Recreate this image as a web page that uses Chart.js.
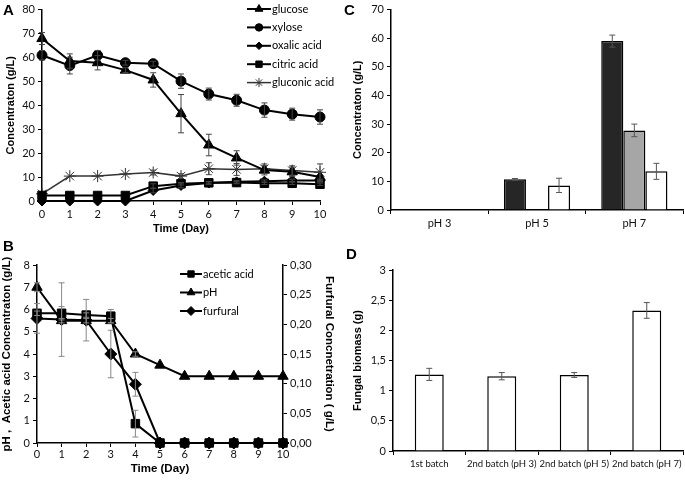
<!DOCTYPE html>
<html>
<head>
<meta charset="utf-8">
<script src="https://cdn.jsdelivr.net/npm/chart.js@4.4.1/dist/chart.umd.min.js"></script>
<style>
  body { margin: 0; background: #fff; }
  #wrap { position: relative; width: 685px; height: 480px; overflow: hidden; }
  #wrap canvas { position: absolute; }
  .tag { position: absolute; font: bold 15px "Liberation Sans", Arial, sans-serif; color: #000; }
</style>
</head>
<body>
<div id="wrap">
  <canvas id="chartA" width="340" height="240" style="left:0;top:0"></canvas>
  <canvas id="chartB" width="340" height="240" style="left:0;top:240px"></canvas>
  <canvas id="chartC" width="345" height="240" style="left:340px;top:0"></canvas>
  <canvas id="chartD" width="345" height="240" style="left:340px;top:240px"></canvas>
  <div class="tag" style="left:3px;top:1px">A</div>
  <div class="tag" style="left:3px;top:237px">B</div>
  <div class="tag" style="left:344px;top:1px">C</div>
  <div class="tag" style="left:346px;top:245px">D</div>
</div>
<script>
// panel A - fermentation time course
const days = ['0', '1', '2', '3', '4', '5', '6', '7', '8', '9', '10'];
const glucose = [67.9, 58.5, 57.8, 54.7, 50.6, 36.5, 23.4, 18.0, 12.9, 12.2, 10.0];
const glucoseErr = [2.5, 3, 3, 1, 3, 8, 4.5, 3, 2, 2, 2];
const xylose = [60.9, 56.6, 60.9, 57.8, 57.4, 50.1, 44.7, 42.1, 38.0, 36.3, 35.1];
const xyloseErr = [2, 3.5, 2, 1, 1, 3, 2.5, 2.5, 3, 2.5, 3];
const oxalic = [0, 0, 0, 0, 4.4, 6.5, 7.5, 8.0, 8.3, 8.6, 8.6];
const oxalicErr = [0, 0, 0, 0, 1, 1, 0.5, 0.5, 0.5, 0.5, 0.5];
const citric = [2.3, 2.3, 2.3, 2.3, 6.2, 7.2, 7.6, 7.7, 7.4, 7.4, 7.0];
const citricErr = [0, 0, 0, 0, 1, 0.5, 0.5, 0.5, 0.5, 0.5, 0.5];
const gluconic = [3.0, 10.4, 10.4, 11.3, 11.9, 10.4, 13.5, 13.2, 13.5, 12.7, 12.0];
const gluconicErr = [0, 0, 0, 0, 1, 1, 2.5, 2.5, 2, 2, 3.5];

// panel B - pH, acetic acid, furfural
const acetic = [5.83, 5.83, 5.75, 5.7, 0.87, 0, 0, 0, 0, 0, 0];
const aceticErr = [0.1, 0.3, 0.1, 0.3, 0.6, 0, 0, 0, 0, 0, 0];
const phValues = [7.0, 5.5, 5.5, 5.5, 4.0, 3.5, 3.0, 3.0, 3.0, 3.0, 3.0];
const phErr = [0.2, 0.1, 0.1, 0.1, 0.1, 0, 0, 0, 0, 0, 0];
const furfural = [0.21, 0.208, 0.207, 0.15, 0.099, 0, 0, 0, 0, 0, 0];
const furfuralErr = [0.025, 0.062, 0.035, 0.04, 0.02, 0, 0, 0, 0, 0, 0];

// panel C - second batch at different pH
const phGroups = ['pH 3', 'pH 5', 'pH 7'];
const glucoseC = [0, 10.7, 59.0];
const glucoseCErr = [0, 0.3, 2.1];
const xyloseC = [0, 0, 27.8];
const xyloseCErr = [0, 0, 2.2];
const gluconicC = [0, 8.6, 13.5];
const gluconicCErr = [0, 2.5, 2.8];

// panel D - fungal biomass
const batches = ['1st batch', '2nd batch (pH 3)', '2nd batch (pH 5)', '2nd batch (pH 7)'];
const biomass = [1.27, 1.24, 1.26, 2.33];
const biomassErr = [0.1, 0.06, 0.04, 0.13];

const tickFont = { family: 'Lato', size: 11 };
const titleFont = { family: 'Liberation Sans', size: 11, weight: 'bold' };
const titleFontB = { family: 'Liberation Sans', size: 11.5, weight: 'bold' };
const comma = v => String(v).replace('.', ',');

// error bars drawn from dataset.errors
const errorBars = {
    id: 'errorBars',
    afterDatasetsDraw(chart) {
        const ctx = chart.ctx;
        chart.data.datasets.forEach((ds, i) => {
            if (!ds.errors) return;
            const meta = chart.getDatasetMeta(i);
            const yScale = chart.scales[meta.yAxisID];
            ctx.save();
            ctx.strokeStyle = ds.errorColor || '#555';
            ctx.lineWidth = 1;
            meta.data.forEach((el, j) => {
                const e = ds.errors[j];
                if (!e) return;
                const v = ds.data[j];
                const y1 = yScale.getPixelForValue(v + e);
                const y2 = yScale.getPixelForValue(v - e);
                ctx.beginPath();
                ctx.moveTo(el.x, y1); ctx.lineTo(el.x, y2);
                ctx.moveTo(el.x - 3, y1); ctx.lineTo(el.x + 3, y1);
                ctx.moveTo(el.x - 3, y2); ctx.lineTo(el.x + 3, y2);
                ctx.stroke();
            });
            ctx.restore();
        });
    }
};

// excel style legend: line + marker, or filled box
const sideLegend = {
    id: 'sideLegend',
    afterDraw(chart, args, opts) {
        if (opts.x === undefined) return;
        const ctx = chart.ctx;
        chart.data.datasets.forEach((ds, i) => {
            const y = opts.y + i * opts.gap;
            let tx;
            ctx.save();
            if (opts.boxes) {
                ctx.fillStyle = ds.backgroundColor;
                ctx.strokeStyle = '#000';
                ctx.lineWidth = 1;
                ctx.fillRect(opts.x, y - 3.5, 7, 7);
                ctx.strokeRect(opts.x + 0.5, y - 3, 6, 6);
                tx = opts.x + 9;
            } else {
                ctx.strokeStyle = ds.borderColor;
                ctx.lineWidth = ds.borderWidth;
                ctx.beginPath();
                ctx.moveTo(opts.x, y); ctx.lineTo(opts.x + opts.len, y);
                ctx.stroke();
                ctx.fillStyle = ds.pointBackgroundColor;
                ctx.strokeStyle = ds.pointBorderColor;
                ctx.lineWidth = 1;
                Chart.helpers.drawPoint(ctx, { pointStyle: ds.pointStyle, radius: ds.pointRadius * 0.75, rotation: 0, borderWidth: 1 }, opts.x + opts.len / 2, y);
                tx = opts.x + opts.len + 1;
            }
            ctx.fillStyle = '#000';
            ctx.font = '11px Lato';
            ctx.textBaseline = 'middle';
            ctx.fillText(ds.label, tx, y);
            ctx.restore();
        });
    }
};

function axis(opts) {
    const a = {
        grid: { drawOnChartArea: false, drawTicks: true, tickLength: 4, color: '#000', lineWidth: 1 },
        border: { color: '#000', width: 1.5 },
        ticks: { color: '#111', font: tickFont, padding: 3, maxRotation: 0, autoSkip: false }
    };
    if (opts.ticks) Object.assign(a.ticks, opts.ticks);
    if (opts.grid) Object.assign(a.grid, opts.grid);
    delete opts.ticks; delete opts.grid;
    return Object.assign(a, opts);
}

function lineSet(label, data, errors, style, radius, extra) {
    return Object.assign({
        label, data, errors,
        borderColor: '#000', borderWidth: 2,
        pointStyle: style, pointRadius: radius,
        pointBackgroundColor: '#000', pointBorderColor: '#000', pointBorderWidth: 1,
        tension: 0, clip: false, errorColor: '#444'
    }, extra || {});
}

const base = { responsive: false, animation: false, devicePixelRatio: 1 };

// A
new Chart(document.getElementById('chartA'), {
    type: 'line',
    data: {
        labels: days,
        datasets: [
            lineSet('glucose', glucose, glucoseErr, 'triangle', 6),
            lineSet('xylose', xylose, xyloseErr, 'circle', 5),
            lineSet('oxalic acid', oxalic, oxalicErr, 'rectRot', 5),
            lineSet('citric acid', citric, citricErr, 'rect', 6),
            lineSet('gluconic acid', gluconic, gluconicErr, 'star', 6, { borderColor: '#333', borderWidth: 1.5, pointBorderColor: '#333' })
        ]
    },
    options: Object.assign({}, base, {
        layout: { padding: { top: 3, right: 20, left: 0, bottom: 0 } },
        plugins: { legend: { display: false }, tooltip: { enabled: false },
            sideLegend: { x: 247, y: 9, gap: 18.4, len: 24 } },
        scales: {
            x: axis({ afterFit: s => { s.height = 39; },
                title: { display: true, text: 'Time (Day)', font: titleFont, color: '#000', padding: { top: 0, bottom: 4 } } }),
            y: axis({ min: 0, max: 80, ticks: { stepSize: 10 }, afterFit: s => { s.width = 42; },
                title: { display: true, text: 'Concentraton (g/L)', font: titleFont, color: '#000', padding: { top: 4, bottom: 0 } } })
        }
    }),
    plugins: [errorBars, sideLegend]
});

// B
new Chart(document.getElementById('chartB'), {
    type: 'line',
    data: {
        labels: days,
        datasets: [
            lineSet('acetic acid', acetic, aceticErr, 'rect', 6, { errorColor: '#888' }),
            lineSet('pH', phValues, phErr, 'triangle', 6, { errorColor: '#888' }),
            lineSet('furfural', furfural, furfuralErr, 'rectRot', 6, { yAxisID: 'y1', errorColor: '#888' })
        ]
    },
    options: Object.assign({}, base, {
        layout: { padding: { top: 25, right: 0, left: 0, bottom: 0 } },
        plugins: { legend: { display: false }, tooltip: { enabled: false },
            sideLegend: { x: 180, y: 34, gap: 18.5, len: 22 } },
        scales: {
            x: axis({ ticks: { padding: 1 }, afterFit: s => { s.height = 37; },
                title: { display: true, text: 'Time (Day)', font: titleFontB, color: '#000', padding: { top: 0, bottom: 4 } } }),
            y: axis({ min: 0, max: 8, ticks: { stepSize: 1 }, afterFit: s => { s.width = 37; },
                title: { display: true, text: 'pH ,  Acetic acid Concentraton (g/L)', font: titleFontB, color: '#000', padding: { top: 0, bottom: 0 } } }),
            y1: axis({ position: 'right', min: 0, max: 0.3, ticks: { stepSize: 0.05, callback: v => v.toFixed(2).replace('.', ',') },
                afterFit: s => { s.width = 57; },
                title: { display: true, text: 'Furfural Concnetration ( g/L)', font: titleFontB, color: '#000', padding: { top: 4, bottom: 0 } } })
        }
    }),
    plugins: [errorBars, sideLegend]
});

// C
function barSet(label, data, errors, color) {
    return { label, data, errors, backgroundColor: color, borderColor: '#000', borderWidth: 1.5,
        categoryPercentage: 0.68, barPercentage: 1, errorColor: '#555' };
}
new Chart(document.getElementById('chartC'), {
    type: 'bar',
    data: {
        labels: phGroups,
        datasets: [
            barSet('glucose', glucoseC, glucoseCErr, '#262626'),
            barSet('xylose', xyloseC, xyloseCErr, '#a6a6a6'),
            barSet('gluconic acid', gluconicC, gluconicCErr, '#ffffff')
        ]
    },
    options: Object.assign({}, base, {
        layout: { padding: { top: 7, right: 2, left: 0, bottom: 0 } },
        plugins: { legend: { display: false }, tooltip: { enabled: false },
            sideLegend: { x: 406, y: 20, gap: 20.5, boxes: true } },
        scales: {
            x: axis({ afterFit: s => { s.height = 30; } }),
            y: axis({ min: 0, max: 70, ticks: { stepSize: 10 }, afterFit: s => { s.width = 51; },
                title: { display: true, text: 'Concentraton (g/L)', font: titleFont, color: '#000', padding: { top: 11, bottom: 0 } } })
        }
    }),
    plugins: [errorBars, sideLegend]
});

// D
new Chart(document.getElementById('chartD'), {
    type: 'bar',
    data: {
        labels: batches,
        datasets: [{ label: 'biomass', data: biomass, errors: biomassErr, backgroundColor: '#fff', borderColor: '#000',
            borderWidth: 1.5, categoryPercentage: 0.4, barPercentage: 1, errorColor: '#555' }]
    },
    options: Object.assign({}, base, {
        layout: { padding: { top: 30, right: 2, left: 0, bottom: 0 } },
        plugins: { legend: { display: false }, tooltip: { enabled: false } },
        scales: {
            x: axis({ ticks: { font: { family: 'Lato', size: 9.5 }, padding: 3 }, afterFit: s => { s.height = 29; } }),
            y: axis({ min: 0, max: 3, ticks: { stepSize: 0.5, callback: v => comma(v) }, afterFit: s => { s.width = 53; },
                title: { display: true, text: 'Fungal biomass (g)', font: titleFont, color: '#000', padding: { top: 11, bottom: 0 } } })
        }
    }),
    plugins: [errorBars]
});
</script>
</body>
</html>
